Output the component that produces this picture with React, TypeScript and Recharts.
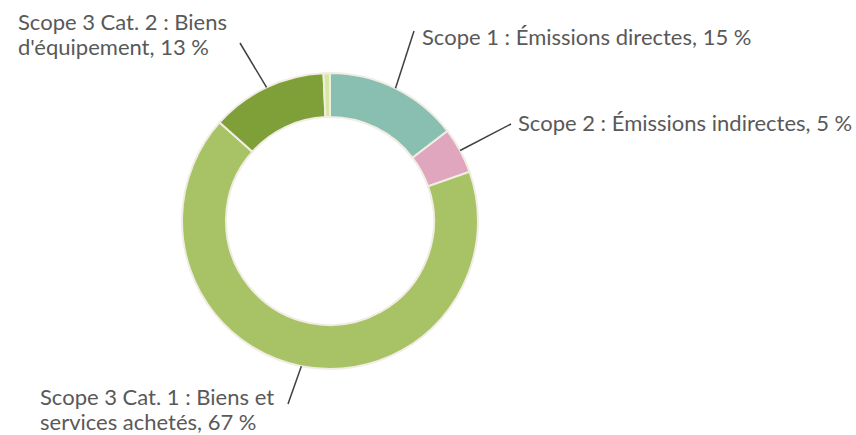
import { Cell, Pie, PieChart } from "recharts";

// parts of the total, clockwise from 12 o'clock
const categories = [
  "Scope 1 : Émissions directes",
  "Scope 2 : Émissions indirectes",
  "Scope 3 Cat. 1 : Biens et services achetés",
  "Scope 3 Cat. 2 : Biens d'équipement",
  "Autres",
];
const shares = [14.6, 5.0, 67.0, 12.7, 0.7];
const labelLines = [
  ["Scope 1 : Émissions directes, 15 %"],
  ["Scope 2 : Émissions indirectes, 5 %"],
  ["Scope 3 Cat. 1 : Biens et", "services achetés, 67 %"],
  ["Scope 3 Cat. 2 : Biens", "d'équipement, 13 %"],
  [],
];
const colors = ["#88bfb1", "#e0a6bd", "#a7c366", "#7f9f38", "#d5e8a2"];

// where each callout ends and its text sits
const callouts = [
  { lx: 414, ly: 31, tx: 422, ty: 45 },
  { lx: 511, ly: 124, tx: 518, ty: 131 },
  { lx: 288, ly: 404, tx: 40, ty: 405 },
  { lx: 240, ly: 43, tx: 18, ty: 30 },
  null,
];

const data = categories.map((name, i) => ({ name, value: shares[i] }));

const RAD = Math.PI / 180;

const renderLabel = (props: any) => {
  const { cx, cy, midAngle, outerRadius, index } = props;
  const c = callouts[index];
  if (!c) return null;
  const sx = cx + outerRadius * Math.cos(-midAngle * RAD);
  const sy = cy + outerRadius * Math.sin(-midAngle * RAD);
  return (
    <g>
      <path d={`M${sx},${sy}L${c.lx},${c.ly}`} stroke="#404040" strokeWidth={1.5} fill="none" />
      <text x={c.tx} y={c.ty} fill="#595959" fontSize={22} fontFamily="Lato, sans-serif" textAnchor="start">
        {labelLines[index].map((t, k) => (
          <tspan key={k} x={c.tx} dy={k === 0 ? 0 : 25}>
            {t}
          </tspan>
        ))}
      </text>
    </g>
  );
};

const App = () => {
  return (
    <div style={{ position: "absolute", left: 0, top: 0, background: "#fff" }}>
      <PieChart width={856} height={435} margin={{ top: 0, right: 0, bottom: 0, left: 0 }}>
        <Pie
          data={data}
          dataKey="value"
          cx={330}
          cy={221}
          innerRadius={104}
          outerRadius={148}
          startAngle={90}
          endAngle={-270}
          stroke="#f1ede4"
          strokeWidth={2}
          label={renderLabel}
          labelLine={false}
          isAnimationActive={false}
        >
          {data.map((d, i) => (
            <Cell key={d.name} fill={colors[i]} />
          ))}
        </Pie>
      </PieChart>
    </div>
  );
};

export default App;
